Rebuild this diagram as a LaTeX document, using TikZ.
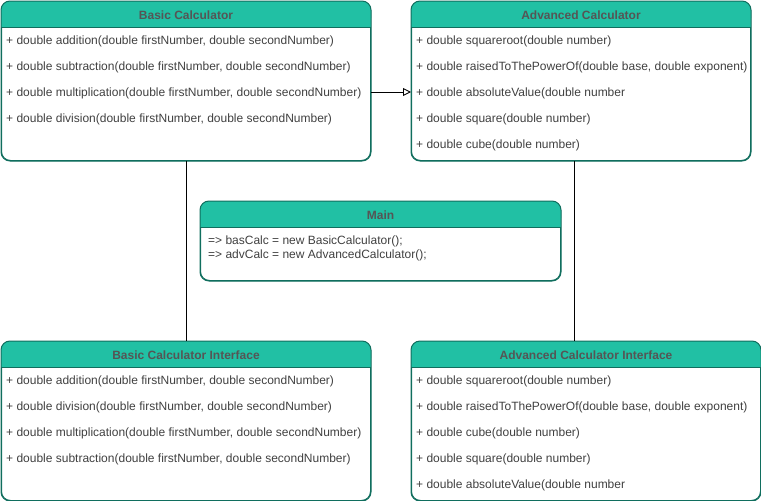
\documentclass[tikz,border=0pt]{standalone}
\usepackage{fontspec}
\setmainfont{Liberation Sans}
\usetikzlibrary{arrows.meta,positioning,calc}
\definecolor{hdrteal}{RGB}{33,192,164}
\definecolor{boxline}{RGB}{16,110,94}
\definecolor{titlegray}{RGB}{85,85,85}
\definecolor{textgray}{RGB}{64,64,64}

\tikzset{
  classbox/.style={draw=boxline, line width=1pt, rounded corners=9pt, anchor=north west,
    inner sep=0pt, minimum height=159pt},
  classtitle/.style={font=\fontsize{12}{14}\selectfont\bfseries, text=titlegray, inner sep=0pt},
  member/.style={font=\fontsize{12}{14}\selectfont, text=textgray, anchor=west, inner sep=0pt},
  link/.style={line width=0.9pt, black},
}

\begin{document}
\begin{tikzpicture}[x=1pt, y=-1pt]
\useasboundingbox (0,0) rectangle (761,501);
% boxes
\node[classbox, minimum width=369pt] (basic) at (1,1) {};
\node[classbox, minimum width=339pt] (adv) at (411,1) {};
\node[classbox, minimum width=360pt, minimum height=79pt] (main) at (200,201) {};
\node[classbox, minimum width=369pt] (basicif) at (1,341) {};
\node[classbox, minimum width=349pt] (advif) at (411,341) {};
% header bars
\foreach \b in {basic,adv,main,basicif,advif}{
  \fill[hdrteal, rounded corners=9pt] (\b.north west) rectangle ([yshift=-26pt]\b.north east);
  \fill[hdrteal] ([yshift=-12pt]\b.north west) rectangle ([yshift=-26pt]\b.north east);
  \draw[boxline, line width=1pt] ([yshift=-26pt]\b.north west) -- ([yshift=-26pt]\b.north east);
  \draw[boxline, line width=1pt, rounded corners=9pt] (\b.north west) rectangle (\b.south east);
}
% titles
\node[classtitle] (basic-t) at ($(basic.north)+(0,14)$) {Basic Calculator};
\node[classtitle] (adv-t) at ($(adv.north)+(0,14)$) {Advanced Calculator};
\node[classtitle] (main-t) at ($(main.north)+(0,14)$) {Main};
\node[classtitle] (basicif-t) at ($(basicif.north)+(0,14)$) {Basic Calculator Interface};
\node[classtitle] (advif-t) at ($(advif.north)+(0,14)$) {Advanced Calculator Interface};
% Basic Calculator members
\node[member] (b1) at (6,41) {+ double addition(double firstNumber, double secondNumber)};
\node[member] (b2) at (6,67) {+ double subtraction(double firstNumber, double secondNumber)};
\node[member] (b3) at (6,93) {+ double multiplication(double firstNumber, double secondNumber)};
\node[member] (b4) at (6,119) {+ double division(double firstNumber, double secondNumber)};
% Advanced Calculator members
\node[member] (a1) at (416,41) {+ double squareroot(double number)};
\node[member] (a2) at (416,67) {+ double raisedToThePowerOf(double base, double exponent)};
\node[member] (a3) at (416,93) {+ double absoluteValue(double number};
\node[member] (a4) at (416,119) {+ double square(double number)};
\node[member] (a5) at (416,145) {+ double cube(double number)};
% Main
\node[member] (m1) at (208,241) {=> basCalc = new BasicCalculator();};
\node[member] (m2) at (208,255) {=> advCalc = new AdvancedCalculator();};
% Basic Calculator Interface members
\node[member] (bi1) at (6,381) {+ double addition(double firstNumber, double secondNumber)};
\node[member] (bi2) at (6,407) {+ double division(double firstNumber, double secondNumber)};
\node[member] (bi3) at (6,433) {+ double multiplication(double firstNumber, double secondNumber)};
\node[member] (bi4) at (6,459) {+ double subtraction(double firstNumber, double secondNumber)};
% Advanced Calculator Interface members
\node[member] (ai1) at (416,381) {+ double squareroot(double number)};
\node[member] (ai2) at (416,407) {+ double raisedToThePowerOf(double base, double exponent)};
\node[member] (ai3) at (416,433) {+ double cube(double number)};
\node[member] (ai4) at (416,459) {+ double square(double number)};
\node[member] (ai5) at (416,485) {+ double absoluteValue(double number};
% connectors
\draw[link] (basic.south -| 186,0) -- (basicif.north -| 186,0);
\draw[link] (adv.south -| 574,0) -- (advif.north -| 574,0);
\draw[link, -{Triangle[open, length=8pt, width=8pt]}] (basic.east |- 0,92) -- (adv.west |- 0,92);
\end{tikzpicture}
\end{document}
